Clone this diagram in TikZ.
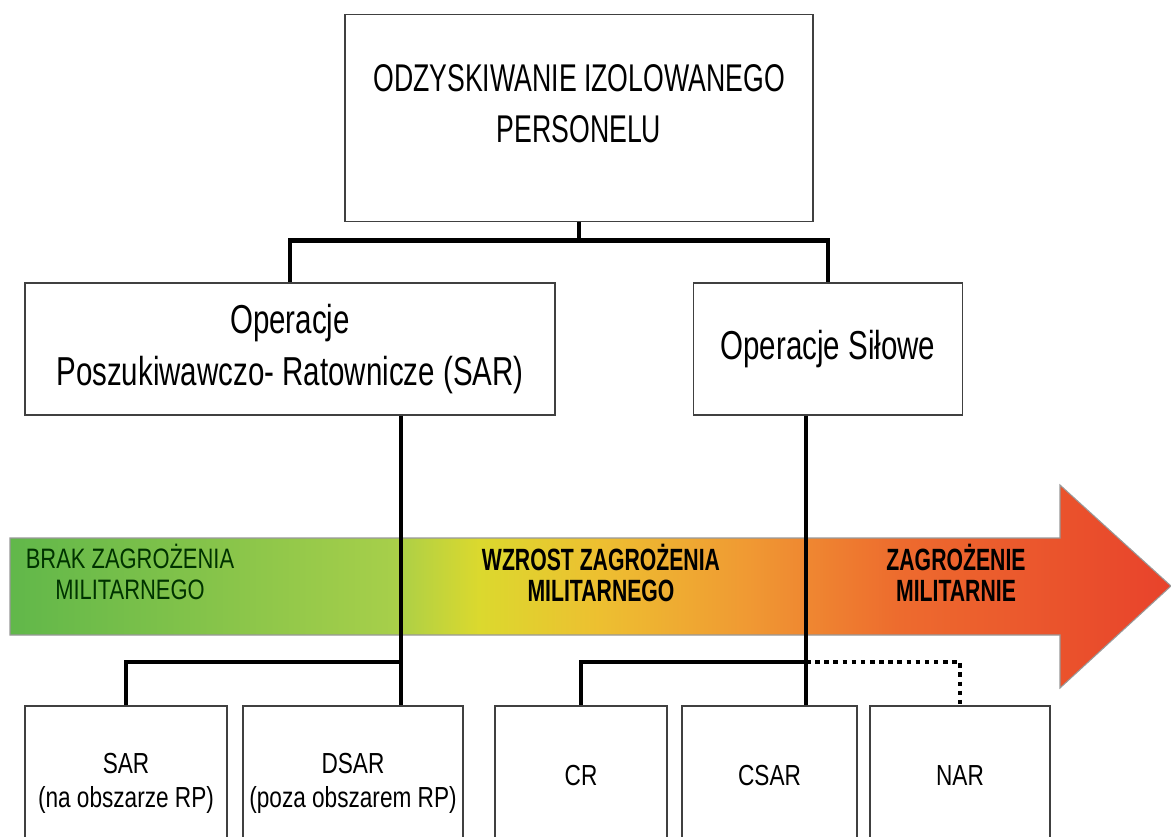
\documentclass[tikz,border=0pt]{standalone}
\usepackage{fontspec}
\setmainfont{Liberation Sans}
\newfontfamily\topfamily[FakeStretch=0.69]{Liberation Sans}
\newfontfamily\midfamily[FakeStretch=0.73]{Liberation Sans}
\newfontfamily\narrowfont[FakeStretch=0.78]{Liberation Sans}
\usetikzlibrary{
    calc,
    positioning
}

% green -> yellow -> red, the path box sits between 25bp and 75bp
\pgfdeclarehorizontalshading{threat}{100bp}{
    rgb(0bp)=(0.38,0.72,0.29);
    rgb(25bp)=(0.38,0.72,0.29);
    rgb(41.3bp)=(0.65,0.81,0.29);
    rgb(45.2bp)=(0.86,0.85,0.18);
    rgb(50.4bp)=(0.93,0.75,0.19);
    rgb(56.8bp)=(0.94,0.60,0.20);
    rgb(63.3bp)=(0.93,0.42,0.18);
    rgb(75bp)=(0.91,0.26,0.17);
    rgb(100bp)=(0.91,0.26,0.17)}

\begin{document}
\begin{tikzpicture}[x=0.02cm, y=-0.02cm,
    box/.style={draw=black!75, line width=0.9pt, fill=white, align=center, inner sep=0pt},
    topfont/.style={font=\topfamily\fontsize{22}{29}\selectfont},
    midfont/.style={font=\midfamily\fontsize{23}{30}\selectfont},
    lowfont/.style={font=\narrowfont\fontsize{16.5}{19}\selectfont},
    band/.style={font=\narrowfont\fontsize{16}{17.5}\selectfont, align=center},
    bandbold/.style={font=\topfamily\bfseries\fontsize{17.5}{17.5}\selectfont, align=center},
    conn/.style={line width=2.8pt, line join=miter},
    dotline/.style={line width=2.8pt, dash pattern=on 2.6pt off 2.6pt}
]
    \useasboundingbox (0,0) rectangle (1171,836);
    \clip (0,0) rectangle (1171,836);
    \fill[white] (0,0) rectangle (1171,836);

    % threat arrow
    \path[draw=black!40, line width=0.6pt, shade, shading=threat]
        (10,538) -- (1060,538) -- (1060,485) -- (1171,586)
        -- (1060,688) -- (1060,635) -- (10,635) -- cycle;
    \node[band, text=green!20!black] (brak) at (130,572) {BRAK ZAGROŻENIA\\MILITARNEGO};
    \node[bandbold] (wzrost) at (601,573) {WZROST ZAGROŻENIA\\MILITARNEGO};
    \node[bandbold] (zagr) at (956,573) {ZAGROŻENIE\\MILITARNIE};

    % boxes
    \node[box, minimum width=9.36cm, minimum height=4.14cm] (odzysk) at (579,118) {};
    \node[topfont, align=center] (odzysktxt) at (579,104)
        {ODZYSKIWANIE IZOLOWANEGO\\PERSONELU};
    \node[box, midfont, minimum width=10.6cm, minimum height=2.64cm] (sarops) at (290,349)
        {Operacje\\Poszukiwawczo- Ratownicze (SAR)};
    \node[box, midfont, minimum width=5.38cm, minimum height=2.64cm] (silowe) at (828,349)
        {Operacje Siłowe};

    \node[box, lowfont, anchor=north, minimum width=4.04cm, minimum height=3.1cm] (sar) at (126,705)
        {SAR\\(na obszarze RP)};
    \node[box, lowfont, anchor=north, minimum width=4.4cm, minimum height=3.1cm] (dsar) at (353,705)
        {DSAR\\(poza obszarem RP)};
    \node[box, lowfont, anchor=north, minimum width=3.44cm, minimum height=2.8cm] (cr) at (581,705) {CR};
    \node[box, lowfont, anchor=north, minimum width=3.5cm, minimum height=2.8cm] (csar) at (769.5,705) {CSAR};
    \node[box, lowfont, anchor=north, minimum width=3.6cm, minimum height=2.8cm] (nar) at (960,705) {NAR};

    % connectors
    \draw[conn] (odzysk.south) -- ++(0,18) coordinate (topjoin);
    \draw[conn] (sarops.north) |- (topjoin) -| (silowe.north);

    \coordinate (ljoin) at (401,662);
    \coordinate (rjoin) at (806,662);
    \draw[conn] (sarops.south -| ljoin) -- (ljoin |- dsar.north);
    \draw[conn] (ljoin) -| (sar.north);
    \draw[conn] (silowe.south -| rjoin) -- (rjoin |- csar.north);
    \draw[conn] (rjoin) -| (cr.north);
    \draw[dotline] (rjoin) -| (nar.north);
\end{tikzpicture}
\end{document}
